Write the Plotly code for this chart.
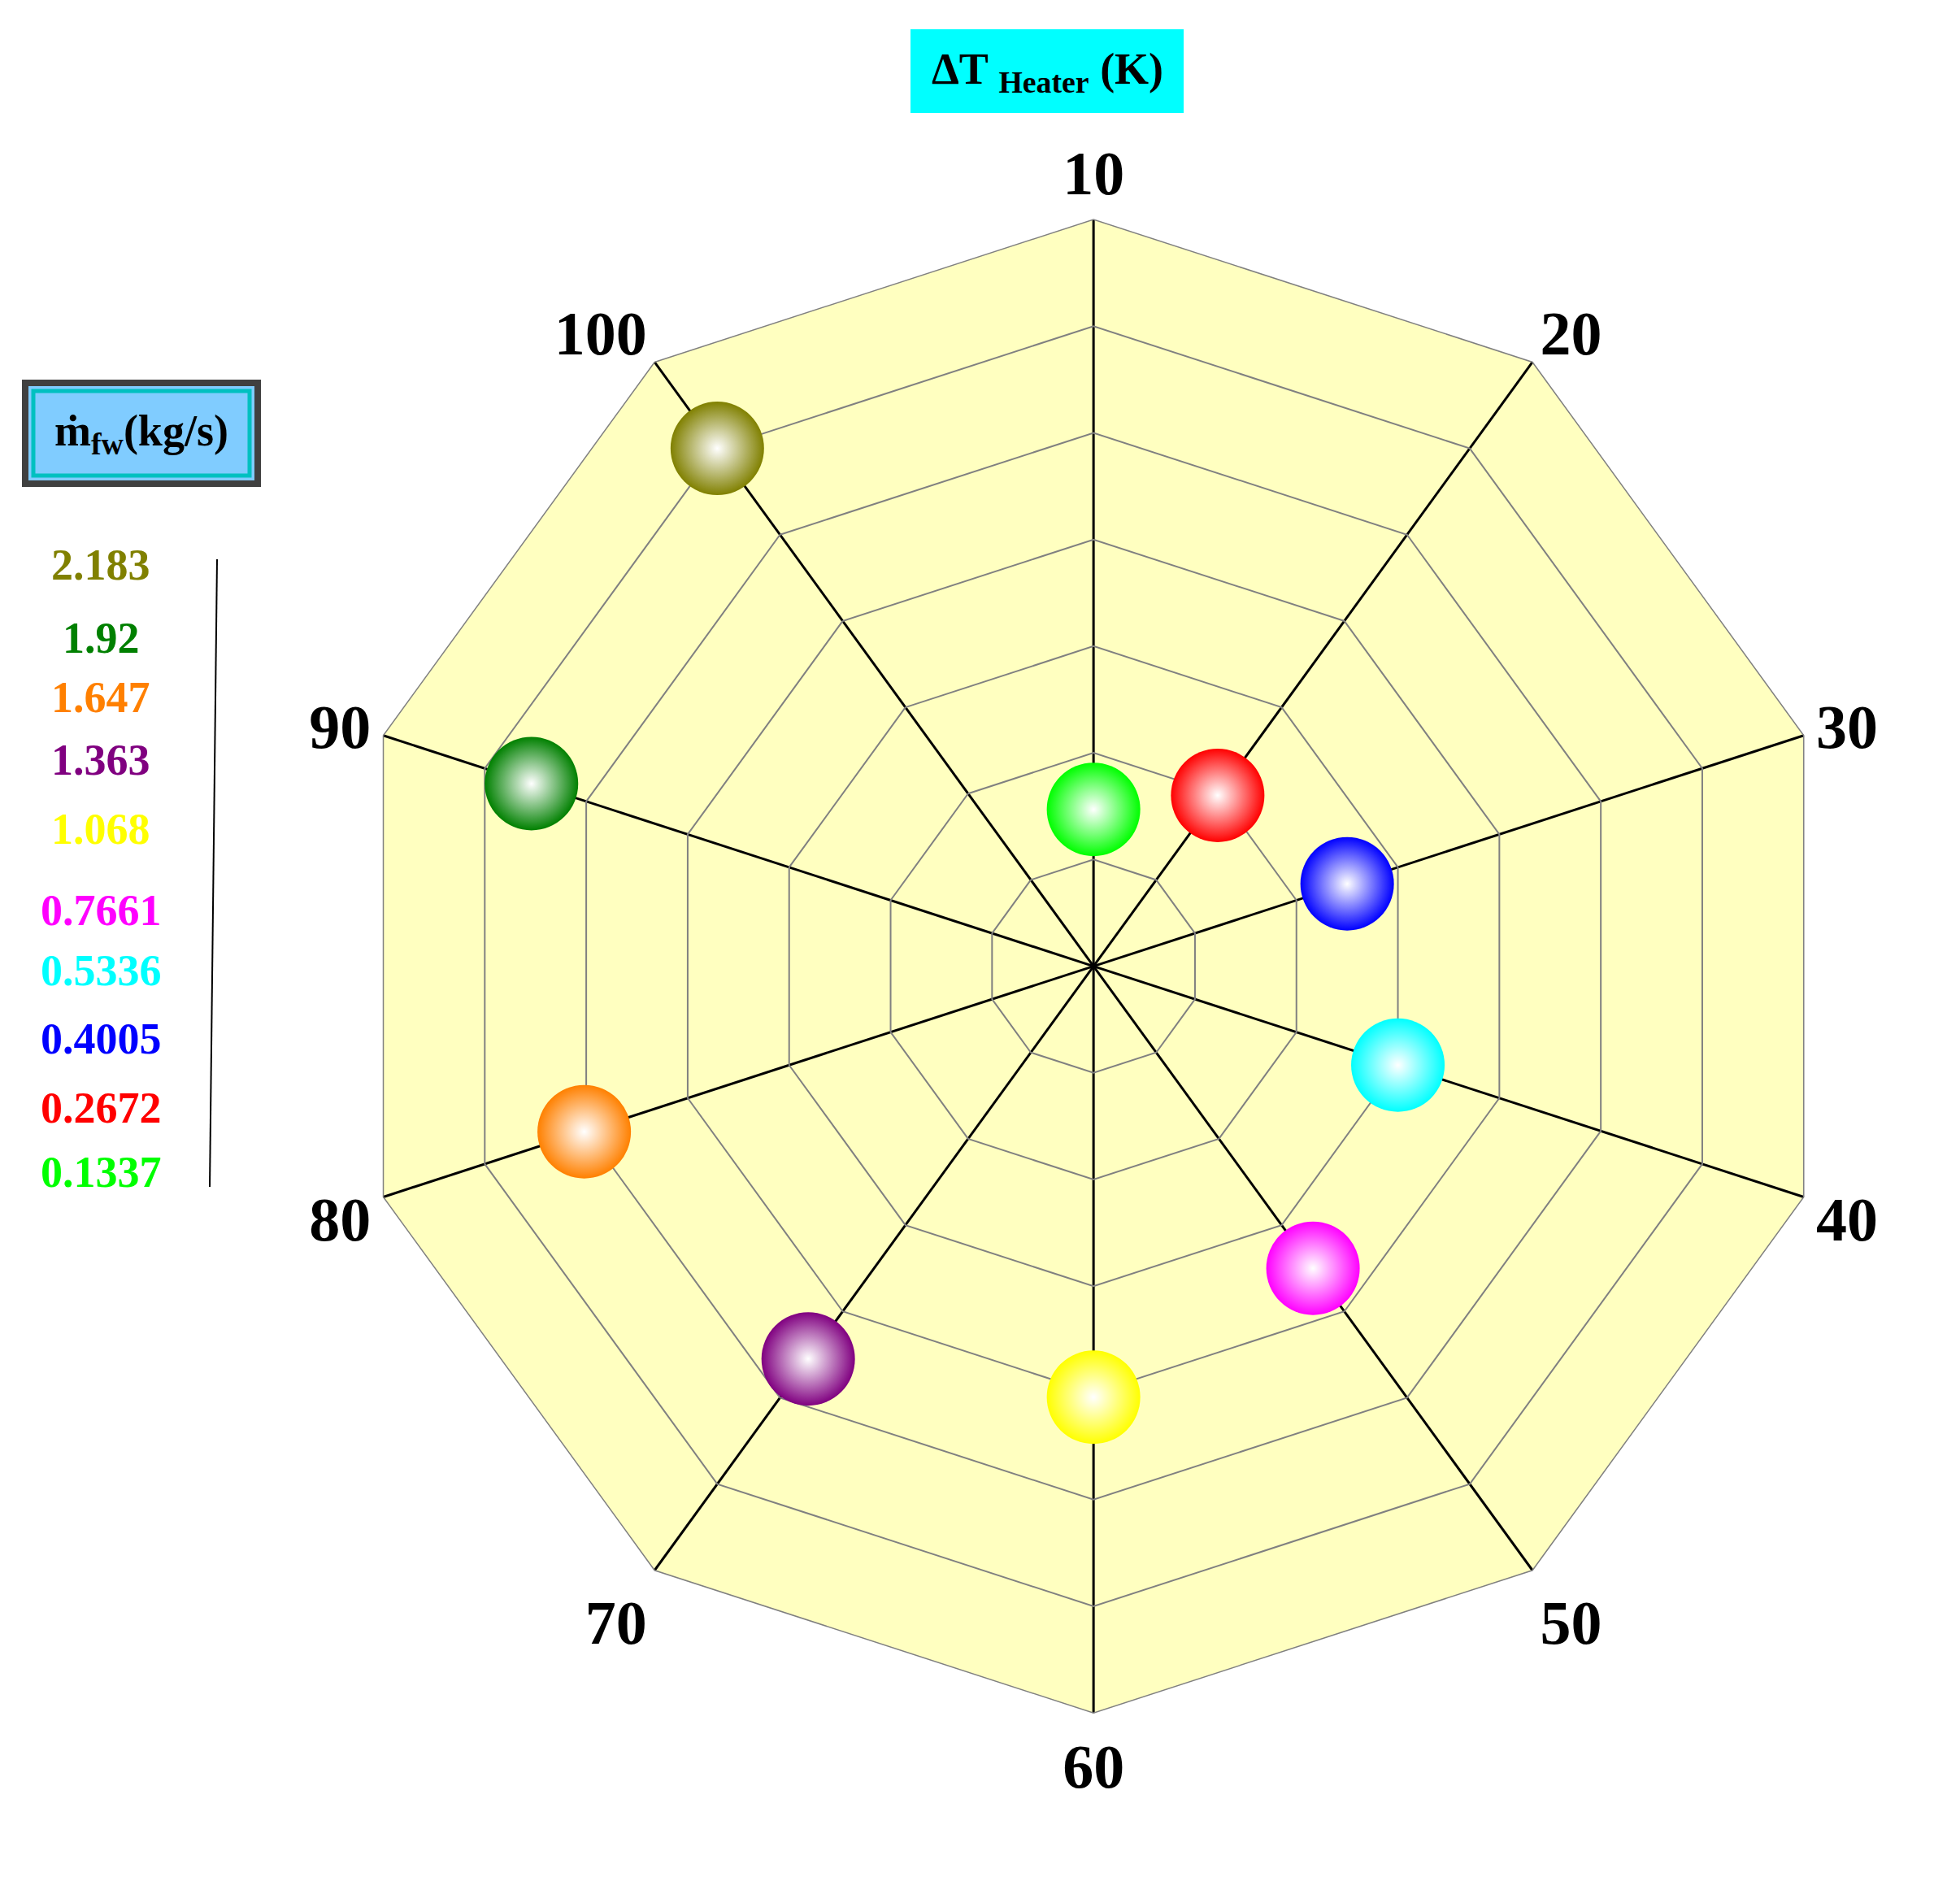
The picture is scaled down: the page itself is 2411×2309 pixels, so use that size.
import plotly.graph_objects as go

theta_labels = ["10", "20", "30", "40", "50", "60", "70", "80", "90", "100"]
r_values = [1.47, 1.98, 2.5, 3.0, 3.5, 4.04, 4.55, 5.02, 5.54, 6.0]
colors = ["#00ff00", "#ff0000", "#0000ff", "#00ffff", "#ff00ff", "#ffff00",
          "#800080", "#ff8000", "#008000", "#808000"]
legend_vals = ["2.183", "1.92", "1.647", "1.363", "1.068", "0.7661", "0.5336", "0.4005", "0.2672", "0.1337"]
legend_cols = ["#808000", "#008000", "#ff8000", "#800080", "#ffff00", "#ff00ff", "#00ffff", "#0000ff", "#ff0000", "#00ff00"]
legend_y = [687, 777, 850, 927, 1012, 1112, 1186, 1270, 1355, 1434]

W, H = 2411, 2309
font = "Liberation Serif"

fig = go.Figure()
fig.add_trace(go.Scatterpolar(
    r=r_values, theta=theta_labels, mode="markers",
    marker=dict(size=115, color=colors, line=dict(width=0),
                gradient=dict(type="radial", color="#ffffff")),
    showlegend=False, hoverinfo="skip"))

fig.update_layout(
    width=W, height=H, paper_bgcolor="white", margin=dict(l=0, r=0, t=0, b=0),
    polar=dict(
        domain=dict(x=[0.1736, 0.9356], y=[0.0907, 0.8867]),
        gridshape="linear", bgcolor="#ffffc0",
        radialaxis=dict(range=[0, 7], dtick=1, showticklabels=False, ticks="",
                        showline=False, gridcolor="#808080", gridwidth=1.5),
        angularaxis=dict(rotation=90, direction="clockwise", linecolor="#808080",
                         linewidth=1.5, gridcolor="black", gridwidth=3, ticks="",
                         tickmode="array", tickvals=theta_labels,
                         ticktext=[f"<b>{t}</b>" for t in theta_labels],
                         tickfont=dict(family=font, size=76, color="black")),
    ),
)

def px(x): return x / W
def py(y): return 1 - y / H

for v, c, y in zip(legend_vals, legend_cols, legend_y):
    fig.add_annotation(x=px(116), y=py(y), xref="paper", yref="paper", text=f"<b>{v}</b>",
                       xanchor="center", yanchor="middle",
                       showarrow=False, font=dict(family=font, size=54, color=c))

fig.add_shape(type="line", xref="paper", yref="paper", x0=px(259), y0=py(680), x1=px(250), y1=py(1452),
              line=dict(color="black", width=2))
# mfw box
fig.add_shape(type="rect", xref="paper", yref="paper", x0=px(23), y0=py(463), x1=px(309), y1=py(587),
              fillcolor="#80ccff", line=dict(color="#404040", width=8))
fig.add_shape(type="rect", xref="paper", yref="paper", x0=px(33), y0=py(473), x1=px(299), y1=py(577),
              fillcolor="rgba(0,0,0,0)", line=dict(color="#00c0c0", width=5))
fig.add_annotation(x=px(166), y=py(525), xref="paper", yref="paper",
                   xanchor="center", yanchor="middle",
                   text="<b>ṁ<sub>fw</sub>(kg/s)</b>", showarrow=False,
                   font=dict(family=font, size=54, color="black"))
# title box
fig.add_shape(type="rect", xref="paper", yref="paper", x0=px(1112), y0=py(28), x1=px(1448), y1=py(131),
              fillcolor="#00ffff", line=dict(width=0))
fig.add_annotation(x=px(1280), y=py(80), xref="paper", yref="paper",
                   xanchor="center", yanchor="middle",
                   text="<b>ΔT <sub>Heater</sub> (K)</b>", showarrow=False,
                   font=dict(family=font, size=54, color="black"))

fig.write_html("out.html")
